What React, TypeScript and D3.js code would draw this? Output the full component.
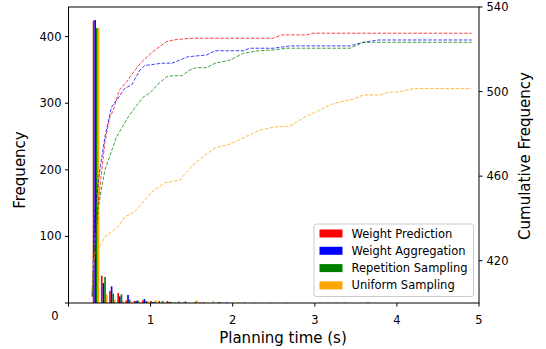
import React from "react";
import * as d3 from "d3";

const seriesNames = ["Weight Prediction", "Weight Aggregation", "Repetition Sampling", "Uniform Sampling"];
const seriesColors = ["#ff0000", "#0000ff", "#008000", "#ffa500"];

const binStarts = [0.285, 0.385, 0.485, 0.585, 0.685, 0.785, 0.885, 0.985, 1.085, 1.185, 1.285, 1.385, 1.485, 1.585, 1.685, 1.785, 1.885, 1.985, 2.085, 2.185, 2.285, 2.385, 2.485, 2.585, 2.685, 2.785, 2.885, 2.985, 3.085, 3.185, 3.285, 3.385, 3.485, 3.585, 3.685, 3.785];
const binWidth = 0.1;

const redCounts = [424, 41, 18, 15, 4, 3, 4, 3, 3, 3, 1, 1, 0, 1, 0, 0, 0, 0, 0, 0, 0, 0, 0, 0, 0, 0, 0, 0, 0, 0, 0, 0, 0, 0, 0, 0];
const blueCounts = [425, 30, 25, 10, 12, 3, 6, 1, 0, 1, 0, 2, 0, 0, 0, 1, 1, 0, 0, 0, 0, 0, 0, 0, 0, 0, 0, 0, 0, 0, 0, 0, 0, 0, 0, 0];
const greenCounts = [413, 39, 14, 13, 5, 4, 3, 2, 3, 2, 2, 0, 2, 1, 0, 1, 0, 0, 1, 0, 0, 0, 0, 0, 0, 0, 0, 0, 0, 0, 0, 0, 0, 1, 0, 0];
const orangeCounts = [413, 13, 5, 3, 2, 2, 3, 4, 1, 1, 1, 1, 4, 1, 3, 1, 0, 1, 0, 1, 0, 1, 0, 1, 0, 0, 1, 1, 1, 1, 1, 0, 0, 1, 0, 0];

const redCumX = [0.288, 0.3, 0.361, 0.443, 0.504, 0.544, 0.605, 0.626, 0.727, 0.748, 0.89, 1.03, 1.195, 1.276, 1.48, 2.49, 2.6, 2.9, 2.98, 4.91];
const redCumY = [403, 414, 447, 476, 488, 491, 499, 501, 505.5, 507, 514, 519, 523.6, 524.4, 525.2, 525.2, 526.8, 526.8, 527.6, 527.6];
const blueCumX = [0.288, 0.32, 0.382, 0.443, 0.524, 0.605, 0.687, 0.768, 0.87, 0.93, 1.134, 1.256, 1.357, 1.459, 1.683, 1.784, 2.13, 2.21, 2.495, 2.7, 3.43, 3.59, 3.78, 4.91];
const blueCumY = [404, 442.6, 462.9, 478.5, 492.7, 497, 501.6, 503.1, 510.2, 512.3, 513.4, 513.4, 514.9, 516.5, 517.3, 519.3, 519.3, 520.5, 520.5, 521.6, 521.6, 523.3, 524.4, 524.4];
const greenCumX = [0.288, 0.312, 0.361, 0.443, 0.585, 0.727, 0.788, 0.91, 0.99, 1.093, 1.195, 1.256, 1.378, 1.479, 1.56, 1.683, 1.784, 1.967, 2.13, 2.293, 2.495, 2.66, 3.43, 3.59, 4.91];
const greenCumY = [403, 421.8, 444.9, 462.9, 478.5, 488, 491.3, 497.4, 499.3, 503.6, 506.9, 507.5, 507.5, 510.2, 511.3, 511.3, 513.4, 514.9, 518.1, 519.2, 519.7, 520.5, 520.5, 523.3, 523.3];
const orangeCumX = [0.288, 0.3, 0.32, 0.382, 0.443, 0.524, 0.605, 0.687, 0.809, 0.93, 1.012, 1.174, 1.357, 1.504, 1.662, 1.784, 1.967, 2.15, 2.33, 2.516, 2.7, 2.88, 3.065, 3.21, 3.31, 3.47, 3.59, 3.8, 3.88, 4.04, 4.2, 4.91];
const orangeCumY = [406, 417, 423.7, 426.6, 431.4, 433.7, 436.1, 440.8, 443.2, 448.7, 452.5, 456.8, 458.2, 464.8, 470, 473.3, 475.2, 478.5, 481.8, 483.3, 483.7, 488, 491.3, 494.1, 495.1, 496.4, 498.4, 498.4, 499.5, 500, 501.4, 501.4];

const xTicks = [0, 1, 2, 3, 4, 5];
const xTickLabels = ["", "1", "2", "3", "4", "5"];
const leftTicks = [0, 100, 200, 300, 400];
const leftTickLabels = ["", "100", "200", "300", "400"];
const rightTicks = [420, 460, 500, 540];

const W = 546, H = 349;
const L = 68.5, R = 479, T = 7, B = 303;
const FONT = "DejaVu Sans, sans-serif";

export default function App() {
  const x = d3.scaleLinear().domain([0, 5]).range([L, R]);
  const yL = d3.scaleLinear().domain([0, 444.5]).range([B, T]);
  const yR = d3.scaleLinear().domain([400, 540]).range([B, T]);

  const counts = [redCounts, blueCounts, greenCounts, orangeCounts];
  const cum = [
    [redCumX, redCumY],
    [blueCumX, blueCumY],
    [greenCumX, greenCumY],
    [orangeCumX, orangeCumY],
  ];
  const barW = x(binWidth * 0.2) - x(0);
  const line = d3.line<[number, number]>().x((d) => x(d[0])).y((d) => yR(d[1]));

  return (
    <svg width={W} height={H} style={{ position: "absolute", left: 0, top: 0, background: "#fff" }} fontFamily={FONT}>
      <rect x={0} y={0} width={W} height={H} fill="#fff" />
      {/* bars */}
      {counts.map((arr, si) =>
        arr.map((v, k) =>
          v > 0 ? (
            <rect
              key={`b${si}-${k}`}
              x={x(binStarts[k] + binWidth * (0.1 + 0.2 * si))}
              y={yL(v)}
              width={barW}
              height={yL(0) - yL(v)}
              fill={seriesColors[si]}
            />
          ) : null
        )
      )}
      {/* cumulative lines */}
      {cum.map(([xs, ys], si) => (
        <path
          key={`l${si}`}
          d={line(xs.map((xv, i) => [xv, ys[i]] as [number, number])) || ""}
          fill="none"
          stroke={seriesColors[si]}
          strokeWidth={1}
          strokeOpacity={0.75}
          strokeDasharray="3.5,1.6"
        />
      ))}
      {/* frame */}
      <rect x={L} y={T} width={R - L} height={B - T} fill="none" stroke="#000" strokeWidth={1} />
      {/* x ticks */}
      {xTicks.map((t, i) => (
        <g key={`xt${i}`}>
          <line x1={x(t)} x2={x(t)} y1={B} y2={B + 3.5} stroke="#000" />
          <text x={x(t)} y={324} fontSize={11.5} textAnchor="middle" fill="#000">{xTickLabels[i]}</text>
        </g>
      ))}
      <text x={55} y={319.5} fontSize={11.5} textAnchor="middle" fill="#000">0</text>
      {/* left ticks */}
      {leftTicks.map((t, i) => (
        <g key={`lt${i}`}>
          <line x1={L - 3.5} x2={L} y1={yL(t)} y2={yL(t)} stroke="#000" />
          <text x={L - 7} y={yL(t) + 4} fontSize={11.5} textAnchor="end" fill="#000">{leftTickLabels[i]}</text>
        </g>
      ))}
      {/* right ticks */}
      {rightTicks.map((t, i) => (
        <g key={`rt${i}`}>
          <line x1={R} x2={R + 3.5} y1={yR(t)} y2={yR(t)} stroke="#000" />
          <text x={R + 7.5} y={yR(t) + 4} fontSize={11.5} textAnchor="start" fill="#000">{t}</text>
        </g>
      ))}
      {/* axis labels */}
      <text x={283} y={343} fontSize={15} textAnchor="middle" fill="#000">Planning time (s)</text>
      <text transform="translate(25,170) rotate(-90)" fontSize={15} textAnchor="middle" fill="#000">Frequency</text>
      <text transform="translate(530,156) rotate(-90)" fontSize={15} textAnchor="middle" fill="#000">Cumulative Frequency</text>
      {/* legend */}
      <rect x={314} y={224} width={159.5} height={72.5} rx={2.5} fill="#fff" fillOpacity={0.8} stroke="#cccccc" strokeWidth={1} />
      {seriesNames.map((name, i) => (
        <g key={`lg${i}`}>
          <rect x={319.5} y={229.5 + i * 17.3} width={23} height={8} fill={seriesColors[i]} />
          <text x={351.5} y={237.5 + i * 17.3} fontSize={11.5} fill="#000">{name}</text>
        </g>
      ))}
    </svg>
  );
}
